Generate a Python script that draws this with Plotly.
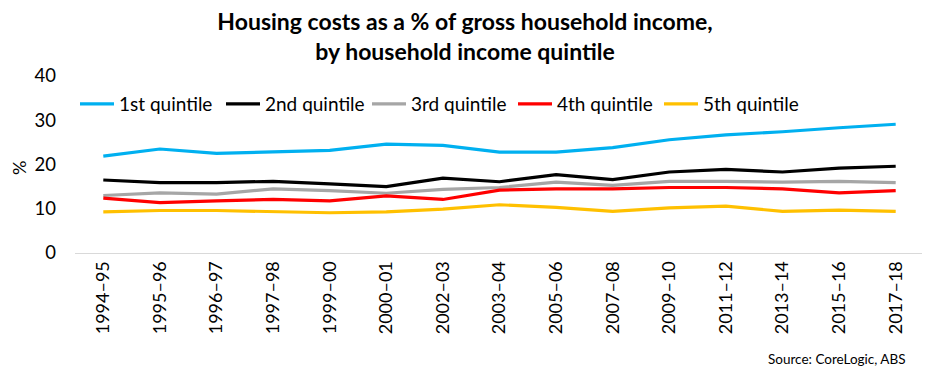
import plotly.graph_objects as go

categories = ["1994–95", "1995–96", "1996–97", "1997–98", "1999–00", "2000–01", "2002–03",
              "2003–04", "2005–06", "2007–08", "2009–10", "2011–12", "2013–14", "2015–16", "2017–18"]

q1 = [21.9, 23.5, 22.5, 22.8, 23.2, 24.6, 24.3, 22.8, 22.8, 23.8, 25.6, 26.7, 27.4, 28.3, 29.1]
q2 = [16.5, 15.9, 15.9, 16.2, 15.6, 15.0, 16.9, 16.1, 17.7, 16.6, 18.3, 18.9, 18.3, 19.2, 19.6]
q3 = [13.0, 13.6, 13.3, 14.5, 14.1, 13.5, 14.4, 14.8, 16.0, 15.3, 16.2, 16.2, 16.0, 16.2, 15.9]
q4 = [12.4, 11.4, 11.8, 12.1, 11.8, 12.9, 12.1, 14.2, 14.5, 14.5, 14.8, 14.8, 14.5, 13.6, 14.1]
q5 = [9.3, 9.6, 9.6, 9.4, 9.1, 9.3, 9.9, 10.9, 10.3, 9.4, 10.2, 10.6, 9.4, 9.7, 9.4]

series_names = ["1st quintile", "2nd quintile", "3rd quintile", "4th quintile", "5th quintile"]
series_values = [q1, q2, q3, q4, q5]
colors = ["#00B0F0", "#000000", "#A6A6A6", "#FF0000", "#FFC000"]

y_ticks = [0, 10, 20, 30, 40]

FONT = "Lato"

fig = go.Figure()
for name, vals, col in zip(series_names, series_values, colors):
    fig.add_trace(go.Scatter(x=categories, y=vals, name=name, mode="lines",
                             line=dict(color=col, width=3.2)))

# page body has an 8px margin, so the figure is sized 922x367
fig.update_layout(
    width=922, height=367,
    margin=dict(l=67, r=6, t=68, b=122),
    paper_bgcolor="white", plot_bgcolor="white",
    font=dict(family=FONT, size=18, color="#000000"),
    title=dict(text="<b>Housing costs as a % of gross household income,<br>by household income quintile</b>",
               x=0.4957, xanchor="center", xref="container", yref="container",
               y=0.941, yanchor="middle",
               font=dict(family=FONT, size=23, color="#000000")),
    showlegend=True,
    legend=dict(orientation="h", x=0.0, xanchor="left", y=0.842, yanchor="middle",
                font=dict(family=FONT, size=19, color="#000000"),
                bgcolor="rgba(0,0,0,0)", entrywidth=97, entrywidthmode="pixels",
                itemwidth=34, tracegroupgap=0),
    xaxis=dict(type="category", range=[-0.5, 14.5], tickangle=-90,
               showgrid=False, showline=True, linecolor="#D9D9D9", linewidth=1,
               ticks="", tickfont=dict(family=FONT, size=18), zeroline=False,
               automargin=False),
    yaxis=dict(range=[0, 40], tickvals=y_ticks, showgrid=False, zeroline=False,
               showline=False, ticks="", tickfont=dict(family=FONT, size=18.5),
               automargin=False, ticklabelstandoff=18),
    annotations=[
        dict(text="%", xref="paper", yref="paper", x=-0.066, y=0.48,
             xanchor="center", yanchor="middle", textangle=-90, showarrow=False,
             font=dict(family=FONT, size=18, color="#000000")),
        dict(text="Source: CoreLogic, ABS", xref="paper", yref="paper",
             x=0.981, y=-0.599, xanchor="right", yanchor="middle", showarrow=False,
             font=dict(family=FONT, size=13.5, color="#000000")),
    ],
)

fig.write_html("out.html")
